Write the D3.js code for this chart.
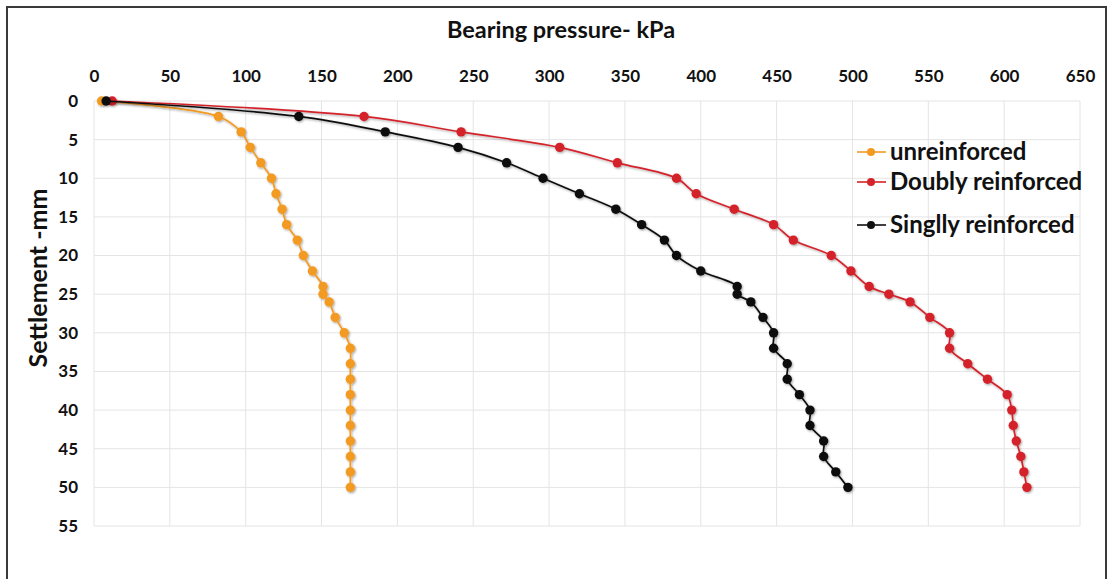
<!DOCTYPE html>
<html>
<head>
<meta charset="utf-8">
<script src="https://cdn.jsdelivr.net/npm/d3@7/dist/d3.min.js"></script>
<style>
  html, body { margin: 0; padding: 0; background: #fff; }
  svg { display: block; }
  text { font-family: Lato, "Open Sans", sans-serif; font-weight: 700; fill: #111; }
</style>
</head>
<body>
<svg id="chart" width="1113" height="579"></svg>
<script>
// Settlement steps (mm) shared by all three load tests
const settlement = [0, 2, 4, 6, 8, 10, 12, 14, 16, 18, 20, 22, 24, 25, 26, 28, 30, 32, 34, 36, 38, 40, 42, 44, 46, 48, 50];

// Bearing pressure (kPa) at each settlement step
const unreinforced = [5, 82, 97, 103, 110, 117, 120, 124, 127, 134, 138, 144, 151, 151, 155, 159, 165, 169, 169, 169, 169, 169, 169, 169, 169, 169, 169];
const doublyReinforced = [12, 178, 242, 307, 345, 384, 397, 422, 448, 461, 486, 499, 511, 524, 538, 551, 564, 564, 576, 589, 602, 605, 606, 608, 611, 613, 615];
const singlyReinforced = [8, 135, 192, 240, 272, 296, 320, 344, 361, 376, 384, 400, 424, 424, 433, 441, 448, 448, 457, 457, 465, 472, 472, 481, 481, 489, 497];

const seriesNames = ["unreinforced", "Doubly reinforced", "Singlly reinforced"];
const seriesColors = ["#f29a21", "#d4232b", "#111111"];

const xTicks = d3.range(0, 651, 50);
const yTicks = d3.range(0, 56, 5);

const svg = d3.select("#chart");
const plot = { left: 94, right: 1080, top: 101, bottom: 526 };

const x = d3.scaleLinear().domain([0, 650]).range([plot.left, plot.right]);
const y = d3.scaleLinear().domain([0, 55]).range([plot.top, plot.bottom]);

// outer frame
svg.append("rect")
  .attr("x", 7).attr("y", 7)
  .attr("width", 1099).attr("height", 600)
  .attr("fill", "none").attr("stroke", "#3a3a3a").attr("stroke-width", 2);

// soft shadow under the series
const defs = svg.append("defs");
const f = defs.append("filter").attr("id", "shadow")
  .attr("x", "-5%").attr("y", "-5%").attr("width", "110%").attr("height", "110%");
f.append("feDropShadow").attr("dx", 1).attr("dy", 1.2)
  .attr("stdDeviation", 1).attr("flood-color", "#000").attr("flood-opacity", 0.35);

// gridlines
const grid = svg.append("g").attr("class", "grid");
grid.selectAll("line.v").data(xTicks).join("line")
  .attr("class", "v")
  .attr("x1", d => x(d)).attr("x2", d => x(d))
  .attr("y1", plot.top).attr("y2", plot.bottom)
  .attr("stroke", "#e4e4e4").attr("stroke-width", 1);
grid.selectAll("line.h").data(yTicks).join("line")
  .attr("class", "h")
  .attr("x1", plot.left).attr("x2", plot.right)
  .attr("y1", d => y(d)).attr("y2", d => y(d))
  .attr("stroke", "#e4e4e4").attr("stroke-width", 1);

// top axis (bearing pressure)
const xAxis = svg.append("g")
  .attr("transform", `translate(0,${plot.top})`)
  .call(d3.axisTop(x).tickValues(xTicks).tickSize(0).tickPadding(19));
xAxis.select(".domain").remove();
xAxis.selectAll("text")
  .style("font-family", "Lato, sans-serif").style("font-weight", 700)
  .style("font-size", "17px").attr("fill", "#111");

// left axis (settlement)
const yAxis = svg.append("g")
  .attr("transform", `translate(${plot.left},0)`)
  .call(d3.axisLeft(y).tickValues(yTicks).tickSize(0).tickPadding(16));
yAxis.select(".domain").remove();
yAxis.selectAll("text")
  .style("font-family", "Lato, sans-serif").style("font-weight", 700)
  .style("font-size", "17px").attr("fill", "#111");

// axis titles
svg.append("text")
  .attr("x", 561).attr("y", 38)
  .attr("text-anchor", "middle")
  .style("font-size", "23.5px")
  .text("Bearing pressure- kPa");

svg.append("text")
  .attr("transform", "translate(47,278) rotate(-90)")
  .attr("text-anchor", "middle")
  .style("font-size", "25px")
  .text("Settlement -mm");

// series: orange, red, then black on top
const allSeries = [unreinforced, doublyReinforced, singlyReinforced];
const line = d3.line()
  .x(d => x(d[0])).y(d => y(d[1]))
  .curve(d3.curveCatmullRom.alpha(0.5));

allSeries.forEach((vals, i) => {
  const pts = vals.map((v, k) => [v, settlement[k]]);
  const g = svg.append("g").attr("filter", "url(#shadow)");
  g.append("path")
    .attr("d", line(pts))
    .attr("fill", "none")
    .attr("stroke", seriesColors[i])
    .attr("stroke-width", 1.7);
  g.selectAll("circle").data(pts).join("circle")
    .attr("cx", d => x(d[0])).attr("cy", d => y(d[1]))
    .attr("r", 4.7)
    .attr("fill", seriesColors[i]);
});

// legend
const legendRows = [152, 182, 225];
const legend = svg.append("g");
seriesNames.forEach((name, i) => {
  const ly = legendRows[i];
  legend.append("line")
    .attr("x1", 857).attr("x2", 886).attr("y1", ly).attr("y2", ly)
    .attr("stroke", seriesColors[i]).attr("stroke-width", 1.6);
  legend.append("circle")
    .attr("cx", 871).attr("cy", ly).attr("r", 4)
    .attr("fill", seriesColors[i]);
  legend.append("text")
    .attr("x", 890).attr("y", ly)
    .attr("dy", "0.35em")
    .style("font-size", "24px")
    .text(name);
});
</script>
</body>
</html>
